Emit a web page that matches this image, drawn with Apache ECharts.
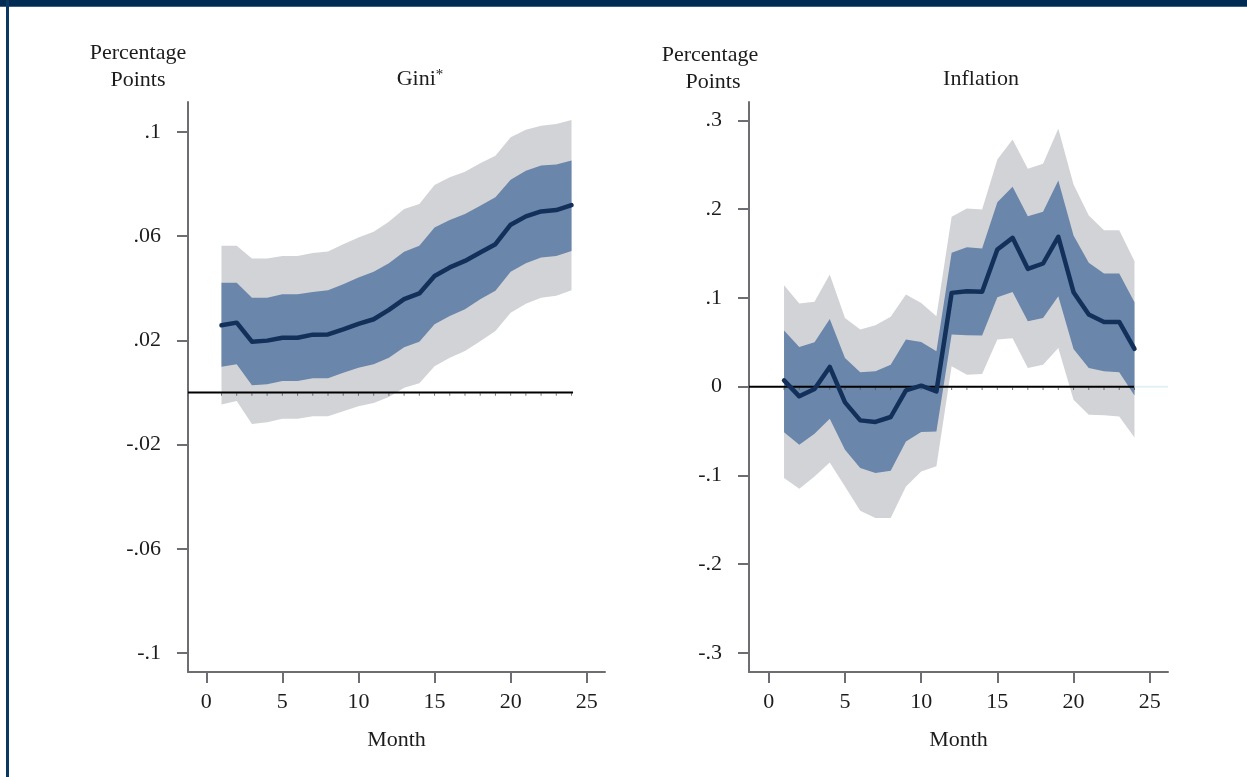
<!DOCTYPE html>
<html>
<head>
<meta charset="utf-8">
<script src="https://cdn.jsdelivr.net/npm/echarts@6/dist/echarts.min.js"></script>
<style>
html,body{margin:0;padding:0;background:#fff;}
#c{width:1247px;height:777px;}
</style>
</head>
<body>
<div id="c"></div>
<script>
// ---- data ----
const months = [1,2,3,4,5,6,7,8,9,10,11,12,13,14,15,16,17,18,19,20,21,22,23,24];
const xTicks = [0,5,10,15,20,25];
const xTickLabels = ['0','5','10','15','20','25'];

const giniTicks = [-0.1,-0.06,-0.02,0.02,0.06,0.1];
const giniTickLabels = ['-.1','-.06','-.02','.02','.06','.1'];
const inflTicks = [-0.3,-0.2,-0.1,0,0.1,0.2,0.3];
const inflTickLabels = ['-.3','-.2','-.1','0','.1','.2','.3'];

const giniMid = [0.0258,0.0268,0.0195,0.0199,0.0210,0.0210,0.0222,0.0223,0.0242,0.0263,0.0281,0.0317,0.0358,0.0380,0.0447,0.0480,0.0505,0.0537,0.0569,0.0644,0.0676,0.0695,0.0700,0.0719];
const giniInnerUp = [0.0421,0.0421,0.0364,0.0364,0.0377,0.0377,0.0386,0.0392,0.0415,0.0441,0.0463,0.0496,0.0540,0.0563,0.0633,0.0662,0.0685,0.0717,0.0749,0.0817,0.0851,0.0871,0.0875,0.0890];
const giniInnerLo = [0.0099,0.0108,0.0028,0.0032,0.0044,0.0044,0.0055,0.0055,0.0076,0.0095,0.0108,0.0133,0.0174,0.0195,0.0262,0.0294,0.0319,0.0358,0.0390,0.0463,0.0496,0.0518,0.0524,0.0543];
const giniOuterUp = [0.0563,0.0563,0.0514,0.0514,0.0524,0.0524,0.0535,0.0541,0.0569,0.0595,0.0617,0.0655,0.0704,0.0723,0.0796,0.0826,0.0847,0.0880,0.0909,0.0980,0.1008,0.1024,0.1031,0.1046];
const giniOuterLo = [-0.0046,-0.0033,-0.0121,-0.0114,-0.0101,-0.0101,-0.0091,-0.0091,-0.0072,-0.0053,-0.0040,-0.0017,0.0018,0.0035,0.0101,0.0133,0.0159,0.0197,0.0236,0.0306,0.0341,0.0364,0.0371,0.0392];

const inflMid = [0.0071,-0.0109,-0.0026,0.0222,-0.0177,-0.0380,-0.0398,-0.0342,-0.0041,0.0011,-0.0053,0.1056,0.1075,0.1068,0.1545,0.1676,0.1327,0.1387,0.1688,0.1064,0.0812,0.0729,0.0729,0.0425];
const inflInnerUp = [0.0631,0.0447,0.0500,0.0763,0.0323,0.0162,0.0173,0.0248,0.0530,0.0504,0.0398,0.1507,0.1571,0.1556,0.2078,0.2251,0.1920,0.1969,0.2322,0.1702,0.1395,0.1274,0.1274,0.0950];
const inflInnerLo = [-0.0515,-0.0654,-0.0530,-0.0361,-0.0710,-0.0917,-0.0973,-0.0947,-0.0617,-0.0511,-0.0504,0.0586,0.0579,0.0575,0.1007,0.1067,0.0736,0.0774,0.1018,0.0425,0.0211,0.0173,0.0162,-0.0101];
const inflOuterUp = [0.1142,0.0936,0.0955,0.1263,0.0774,0.0643,0.0691,0.0786,0.1037,0.0943,0.0793,0.1913,0.2007,0.1995,0.2559,0.2785,0.2454,0.2511,0.2905,0.2277,0.1928,0.1762,0.1762,0.1413];
const inflOuterLo = [-0.1029,-0.1150,-0.1011,-0.0853,-0.1124,-0.1398,-0.1480,-0.1480,-0.1124,-0.0955,-0.0898,0.0229,0.0135,0.0143,0.0530,0.0545,0.0211,0.0248,0.0436,-0.0147,-0.0316,-0.0323,-0.0335,-0.0572];

// ---- styling ----
const FONT = 'Liberation Serif';
const FS = 22;
const TXT = '#1c1c1c';
const AXIS = '#6e6e72';
const GRAY = '#d2d3d6';
const BLUE = '#6a86aa';
const NAVY = '#12305a';

function labelFor(ticks, labels) {
  return function (v) {
    let best = 0, bd = Infinity;
    ticks.forEach((t, i) => { const d = Math.abs(t - v); if (d < bd) { bd = d; best = i; } });
    return labels[best];
  };
}

function xAxisDef(gi, min, max) {
  return {
    type: 'value', gridIndex: gi, min: min, max: max,
    name: 'Month', nameLocation: 'middle', nameGap: 57,
    nameTextStyle: { fontFamily: FONT, fontSize: FS, color: TXT },
    axisLine: { onZero: false, lineStyle: { color: AXIS, width: 2 } },
    axisTick: { customValues: xTicks, length: 11, lineStyle: { color: AXIS, width: 2 } },
    axisLabel: { customValues: xTicks, formatter: labelFor(xTicks, xTickLabels), margin: 19,
      fontFamily: FONT, fontSize: FS, color: TXT },
    splitLine: { show: false }
  };
}
function yAxisDef(gi, min, max, ticks, labels) {
  return {
    type: 'value', gridIndex: gi, min: min, max: max,
    axisLine: { show: true, onZero: false, lineStyle: { color: AXIS, width: 2 } },
    axisTick: { show: true, customValues: ticks, length: 11, lineStyle: { color: AXIS, width: 2 } },
    axisLabel: { customValues: ticks, formatter: labelFor(ticks, labels), margin: 27,
      fontFamily: FONT, fontSize: FS, color: TXT },
    splitLine: { show: false }
  };
}

function pairs(xs, ys) { return xs.map((x, i) => [x, ys[i]]); }

// confidence band drawn as one polygon through the axis scales
function band(gi, lo, hi, color) {
  return {
    type: 'custom', xAxisIndex: gi, yAxisIndex: gi, silent: true,
    data: months.map((m, i) => [m, lo[i], hi[i]]),
    encode: { x: 0, y: [1, 2] },
    renderItem: function (params, api) {
      if (params.dataIndex !== 0) return null;
      const top = months.map((m, i) => api.coord([m, hi[i]]));
      const bot = months.map((m, i) => api.coord([m, lo[i]])).reverse();
      return { type: 'polygon', shape: { points: top.concat(bot) }, style: { fill: color } };
    }
  };
}

function zeroLine(gi, from, to, color) {
  return { type: 'line', xAxisIndex: gi, yAxisIndex: gi, data: [[from, 0], [to, 0]],
    symbol: 'none', lineStyle: { color: color, width: 2 }, silent: true };
}
function zeroTicks(gi) {
  return { type: 'scatter', xAxisIndex: gi, yAxisIndex: gi, data: months.map(m => [m, 0]),
    symbol: 'rect', symbolSize: [1, 2.5], symbolOffset: [0, 2],
    itemStyle: { color: '#555' }, silent: true };
}
function midLine(gi, ys) {
  return { type: 'line', xAxisIndex: gi, yAxisIndex: gi, data: pairs(months, ys),
    symbol: 'none', lineStyle: { color: NAVY, width: 4.5, join: 'round', cap: 'round' }, silent: true };
}

const xMinL = -1.2, xMaxL = 26.2, xMinR = -1.3, xMaxR = 26.2;

function txt(x, y, s) {
  return { type: 'text', x: x, y: y, silent: true,
    style: { text: s, fill: TXT, font: FS + 'px "' + FONT + '"', textAlign: 'center', textVerticalAlign: 'middle' } };
}

const option = {
  animation: false,
  backgroundColor: '#ffffff',
  grid: [
    { left: 188, top: 102, width: 417, height: 570 },
    { left: 749, top: 102, width: 419, height: 570 }
  ],
  xAxis: [ xAxisDef(0, xMinL, xMaxL), xAxisDef(1, xMinR, xMaxR) ],
  yAxis: [
    yAxisDef(0, -0.1073, 0.1115, giniTicks, giniTickLabels),
    yAxisDef(1, -0.3214, 0.3206, inflTicks, inflTickLabels)
  ],
  series: [
    band(0, giniOuterLo, giniOuterUp, GRAY),
    band(0, giniInnerLo, giniInnerUp, BLUE),
    zeroLine(0, xMinL, 24.1, '#000000'), zeroTicks(0), midLine(0, giniMid),
    band(1, inflOuterLo, inflOuterUp, GRAY),
    band(1, inflInnerLo, inflInnerUp, BLUE),
    zeroLine(1, xMinR, 24, '#000000'), zeroLine(1, 24, xMaxR, '#e2f1f4'), zeroTicks(1), midLine(1, inflMid)
  ],
  graphic: [
    { type: 'rect', shape: { x: 0, y: 0, width: 1247, height: 6 }, style: { fill: '#022b54' }, silent: true },
    { type: 'rect', shape: { x: 0, y: 6, width: 1247, height: 1 }, style: { fill: '#3b6187' }, silent: true },
    { type: 'rect', shape: { x: 6, y: 0, width: 3, height: 777 }, style: { fill: '#0b3763' }, silent: true },
    txt(138, 53, 'Percentage'),
    txt(138, 80, 'Points'),
    txt(710, 55, 'Percentage'),
    txt(713, 82, 'Points'),
    { type: 'text', x: 420, y: 79, silent: true,
      style: { text: '{a|Gini}{b|*}', textAlign: 'center', textVerticalAlign: 'middle',
        rich: { a: { fontFamily: FONT, fontSize: FS, fill: TXT, color: TXT },
                b: { fontFamily: FONT, fontSize: 15, fill: TXT, color: TXT, verticalAlign: 'top', padding: [0, 0, 6, 0] } } } },
    txt(981, 79, 'Inflation')
  ]
};

const chart = echarts.init(document.getElementById('c'), null, { renderer: 'canvas' });
chart.setOption(option);
</script>
</body>
</html>
